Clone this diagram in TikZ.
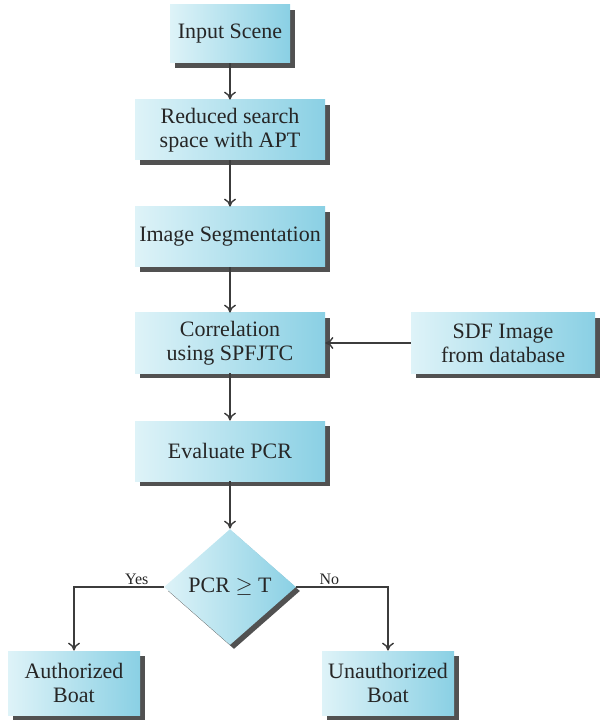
\documentclass[tikz,border=0pt]{standalone}
\usepackage{fontspec}
\setmainfont{Liberation Serif}
\usetikzlibrary{positioning}
\usetikzlibrary{arrows.meta}
\usetikzlibrary{shapes.geometric}
\usetikzlibrary{shadows}
\definecolor{boxlight}{RGB}{222,243,248}
\definecolor{boxdark}{RGB}{138,208,228}
\definecolor{linegray}{RGB}{60,60,60}

\begin{document}
\begin{tikzpicture}[x=0.5pt,y=-0.5pt,
			every node/.style={font=\fontsize{11}{12}\selectfont, text=black!85, align=center},
			block/.style={rectangle, left color=boxlight, right color=boxdark,
				minimum width=95pt, minimum height=30pt, inner sep=2pt,
				drop shadow={shadow xshift=2.5pt, shadow yshift=-2.5pt, fill=black!80, opacity=0.85}},
			decision/.style={diamond, left color=boxlight, right color=boxdark,
				minimum width=66pt, minimum height=58pt, inner sep=1pt,
				drop shadow={shadow xshift=2pt, shadow yshift=-2pt, fill=black!80, opacity=0.85}},
			flow/.style={draw=linegray, line width=0.7pt, -{To[length=4pt,width=6pt]}},
			answer/.style={font=\fontsize{8}{9}\selectfont, inner sep=1pt}]
		\useasboundingbox (0,0) rectangle (608,726);
		% main column
		\node[block, minimum width=60pt, minimum height=29pt] (scene) at (230,34) {Input Scene};
		\node[block] (apt) at (230,130) {Reduced search\\space with APT};
		\node[block] (seg) at (230,237) {Image Segmentation};
		\node[block] (corr) at (230,343) {Correlation\\using SPFJTC};
		\node[block, minimum width=92pt] (sdf) at (503,343) {SDF Image\\from database};
		\node[block] (pcr) at (230,451) {Evaluate PCR};
		\node[decision] (test) at (230,587) {PCR $\geq$ T};
		% outcomes
		\node[block, minimum width=66pt, minimum height=32pt] (auth) at (74,683) {Authorized\\Boat};
		\node[block, minimum width=66pt, minimum height=32pt] (unauth) at (388,683) {Unauthorized\\Boat};

		\draw[flow] (scene) -- (apt);
		\draw[flow] (apt) -- (seg);
		\draw[flow] (seg) -- (corr);
		\draw[flow] (sdf) -- (corr);
		\draw[flow] (corr) -- (pcr);
		\draw[flow] (pcr) -- (test);
		\draw[flow] (test.west) -| (auth) node[answer, pos=0.15, above] {Yes};
		\draw[flow] (test.east) -| (unauth) node[answer, pos=0.18, above] {No};
\end{tikzpicture}
\end{document}
